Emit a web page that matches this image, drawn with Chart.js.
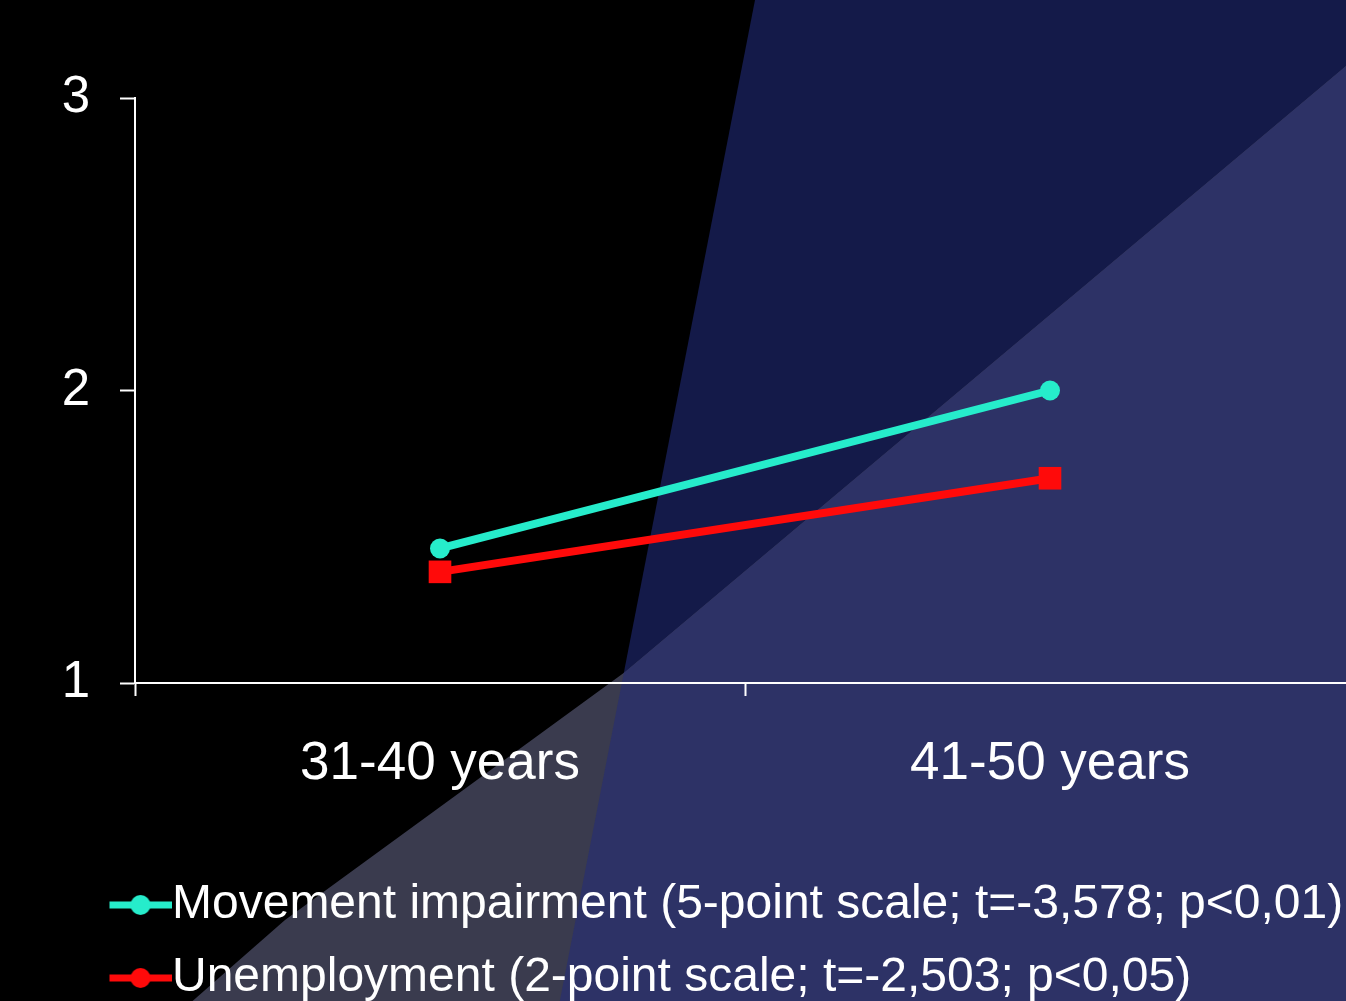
<!DOCTYPE html>
<html>
<head>
<meta charset="utf-8">
<script src="https://cdn.jsdelivr.net/npm/chart.js@4/dist/chart.umd.min.js"></script>
<style>
  html, body { margin: 0; padding: 0; background: #000; overflow: hidden; }
  #c { position: absolute; left: 0; top: 0; }
</style>
</head>
<body>
<canvas id="c" width="1371" height="1012"></canvas>
<script>
// Age groups on the x axis
const ageGroups = ['31-40 years', '41-50 years'];
// Mean scores per age group
const movementImpairment = [1.46, 2.0];
const unemployment = [1.38, 1.70];
// Series names shown in the legend
const seriesNames = [
  'Movement impairment (5-point scale; t=-3,578; p<0,01)',
  'Unemployment (2-point scale; t=-2,503; p<0,05)'
];
// Y axis range and step
const yMin = 1, yMax = 3, yStep = 1;

const FONT = "'Liberation Sans', Arial, sans-serif";
const CYAN = '#26eccb';
const RED = '#ff0a0a';

// Slide-style background: black with two angled blue panels
const backdrop = {
  id: 'backdrop',
  beforeDraw(chart) {
    const ctx = chart.ctx;
    const W = chart.width, H = chart.height;
    const navyEdge = y => 755 - 0.195 * y;
    const navyPanel = () => {
      ctx.beginPath();
      ctx.moveTo(navyEdge(0), 0);
      ctx.lineTo(W, 0);
      ctx.lineTo(W, H);
      ctx.lineTo(navyEdge(H), H);
      ctx.closePath();
    };
    ctx.save();
    ctx.fillStyle = '#000000';
    ctx.fillRect(0, 0, W, H);
    navyPanel();
    ctx.fillStyle = '#141a49';
    ctx.fill();
    // lighter diagonal band in the lower right
    ctx.beginPath();
    ctx.moveTo(1346, 66);
    ctx.lineTo(W, 55);
    ctx.lineTo(W, H);
    ctx.lineTo(180, H);
    ctx.lineTo(285, 920);
    ctx.lineTo(625, 672);
    ctx.closePath();
    ctx.clip();
    ctx.fillStyle = '#3a3b4e';
    ctx.fillRect(0, 0, W, H);
    navyPanel();
    ctx.fillStyle = '#2d3266';
    ctx.fill();
    ctx.restore();
  }
};

// Legend symbol: short line with the series marker in its middle,
// drawn on the right part of a wider transparent strip
function legendSymbol(color) {
  const cv = document.createElement('canvas');
  cv.width = 170; cv.height = 26;
  const g = cv.getContext('2d');
  g.strokeStyle = color; g.fillStyle = color; g.lineWidth = 7;
  g.beginPath(); g.moveTo(108, 13); g.lineTo(170, 13); g.stroke();
  g.beginPath();
  g.arc(139, 13, 10, 0, Math.PI * 2);
  g.fill();
  return cv;
}
const legendSymbols = [legendSymbol(CYAN), legendSymbol(RED)];

new Chart(document.getElementById('c'), {
  type: 'line',
  data: {
    labels: ageGroups,
    datasets: [
      {
        label: seriesNames[0],
        data: movementImpairment,
        borderColor: CYAN,
        backgroundColor: CYAN,
        borderWidth: 8,
        pointStyle: 'circle',
        pointRadius: 10,
        pointBorderWidth: 0,
        tension: 0
      },
      {
        label: seriesNames[1],
        data: unemployment,
        borderColor: RED,
        backgroundColor: RED,
        borderWidth: 8,
        pointStyle: 'rect',
        pointRadius: 16,
        pointBorderWidth: 0,
        tension: 0
      }
    ]
  },
  options: {
    responsive: false,
    animation: false,
    layout: { padding: { left: 0, top: 98, right: 1, bottom: 0 } },
    scales: {
      x: {
        type: 'category',
        offset: true,
        grid: {
          offset: true,
          drawOnChartArea: false,
          drawTicks: true,
          tickLength: 13,
          tickWidth: 2,
          tickColor: '#ffffff'
        },
        border: { display: true, color: '#ffffff', width: 2 },
        ticks: { color: '#ffffff', font: { family: FONT, size: 53 }, padding: 37, maxRotation: 0 },
        afterFit(scale) { scale.height = 173; }
      },
      y: {
        min: yMin,
        max: yMax,
        grid: {
          drawOnChartArea: false,
          drawTicks: true,
          tickLength: 15,
          tickWidth: 2,
          tickColor: '#ffffff'
        },
        border: { display: true, color: '#ffffff', width: 2 },
        ticks: { stepSize: yStep, color: '#ffffff', font: { family: FONT, size: 51 }, padding: 30 },
        afterFit(scale) { scale.width = 135; }
      }
    },
    plugins: {
      tooltip: { enabled: false },
      legend: {
        display: true,
        position: 'bottom',
        align: 'start',
        labels: {
          color: '#ffffff',
          font: { family: FONT, size: 48 },
          padding: 25,
          usePointStyle: true,
          pointStyleWidth: 123,
          generateLabels(chart) {
            const items = Chart.defaults.plugins.legend.labels.generateLabels(chart);
            items.forEach((it, i) => { it.pointStyle = legendSymbols[i]; it.fontColor = '#ffffff'; });
            return items;
          }
        }
      }
    }
  },
  plugins: [backdrop]
});
</script>
</body>
</html>
